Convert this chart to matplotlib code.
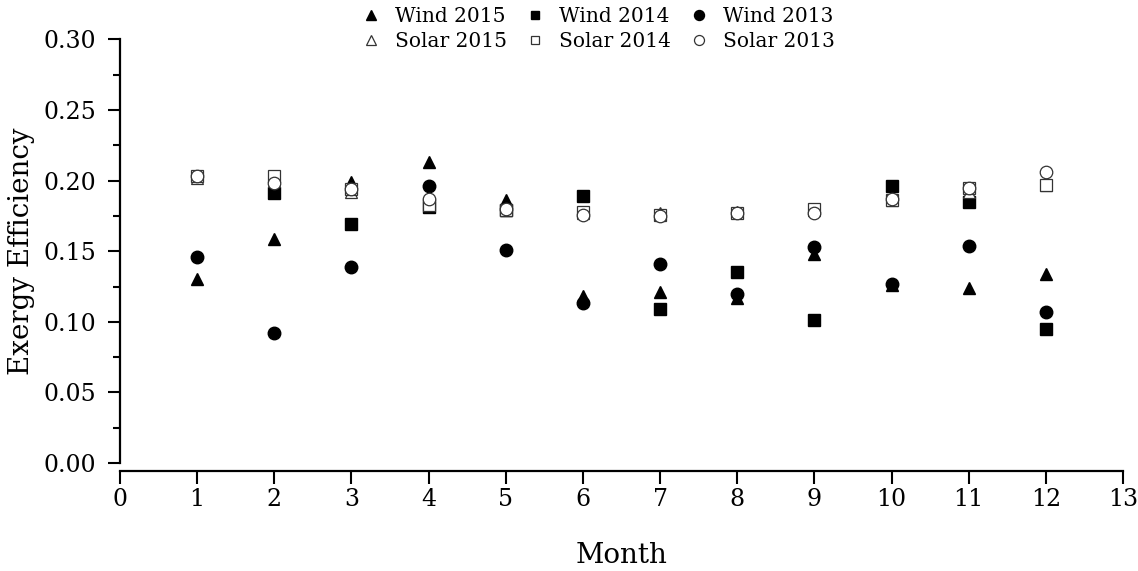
import numpy as np
import matplotlib
matplotlib.use("Agg")
import matplotlib.pyplot as plt

# -----------------------
# Data
# -----------------------
months = [1, 2, 3, 4, 5, 6, 7, 8, 9, 10, 11, 12]

wind_2015 = [0.130, 0.159, 0.199, 0.213, 0.186, 0.118, 0.121, 0.117, 0.148, 0.126, 0.124, 0.134]
wind_2014 = [np.nan, 0.191, 0.169, 0.181, 0.179, 0.189, 0.109, 0.135, 0.101, 0.196, 0.185, 0.095]
wind_2013 = [0.146, 0.092, 0.139, 0.196, 0.151, 0.113, 0.141, 0.120, 0.153, 0.127, 0.154, 0.107]

solar_2015 = [0.202, 0.200, 0.192, 0.183, 0.179, 0.177, 0.177, 0.178, 0.179, 0.186, 0.192, 0.197]
solar_2014 = [0.203, 0.203, 0.194, 0.183, 0.179, 0.178, 0.176, 0.177, 0.180, 0.186, 0.195, 0.197]
solar_2013 = [0.203, 0.198, 0.194, 0.187, 0.180, 0.176, 0.175, 0.177, 0.177, 0.187, 0.195, 0.206]

x_ticks = list(range(0, 14))
y_ticks = [0.00, 0.05, 0.10, 0.15, 0.20, 0.25, 0.30]

# -----------------------
# Figure
# -----------------------
plt.rcParams["font.family"] = ["DejaVu Serif"]

fig = plt.figure(figsize=(11.38, 5.71), dpi=100)
ax = fig.add_axes([0.1054, 0.189, 0.8814, 0.742])

ms_fill = 9
ms_open = 9

h_w15, = ax.plot(months, wind_2015, "^", color="black", ms=ms_fill, ls="none", label="Wind 2015")
h_w14, = ax.plot(months, wind_2014, "s", color="black", ms=ms_fill - 1, ls="none", label="Wind 2014")
h_w13, = ax.plot(months, wind_2013, "o", color="black", ms=ms_fill, ls="none", label="Wind 2013")

h_s15, = ax.plot(months, solar_2015, "^", mfc="white", mec="#333333", mew=0.9, ms=ms_open,
                 ls="none", label="Solar 2015")
h_s14, = ax.plot(months, solar_2014, "s", mfc="white", mec="#333333", mew=0.9, ms=ms_open - 1,
                 ls="none", label="Solar 2014")
h_s13, = ax.plot(months, solar_2013, "o", mfc="white", mec="#333333", mew=0.9, ms=ms_open,
                 ls="none", label="Solar 2013")

ax.set_xlim(0, 13)
ax.set_ylim(0, 0.30)
ax.set_xticks(x_ticks)
ax.set_yticks(y_ticks)
ax.set_yticklabels([f"{v:.2f}" for v in y_ticks])
ax.set_yticks(np.arange(0.025, 0.30, 0.05), minor=True)

for s in ["top", "right"]:
    ax.spines[s].set_visible(False)
ax.spines["left"].set_linewidth(1.6)
ax.spines["bottom"].set_linewidth(1.6)
ax.spines["bottom"].set_position(("outward", 6))

ax.tick_params(axis="both", which="major", direction="out", length=9, width=1.5, labelsize=17)
ax.tick_params(axis="y", which="minor", direction="out", length=5, width=1.5)
ax.tick_params(axis="x", pad=3)
ax.tick_params(axis="y", pad=8)

ax.set_xlabel("Month", fontsize=20, labelpad=22)
ax.set_ylabel("Exergy Efficiency", fontsize=20, labelpad=6)

fig.legend(handles=[h_w15, h_s15, h_w14, h_s14, h_w13, h_s13],
           loc="upper center", bbox_to_anchor=(597 / 1138, 1.02), ncol=3, frameon=False,
           fontsize=14.5, handletextpad=0.6, columnspacing=0.8, labelspacing=0.3,
           handlelength=1.2, markerscale=0.8)

fig.savefig("out.png", dpi=100)
